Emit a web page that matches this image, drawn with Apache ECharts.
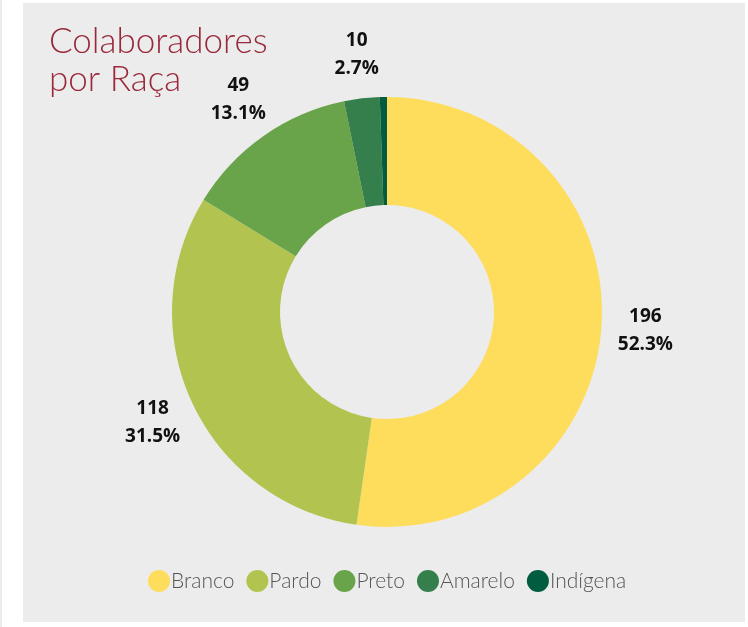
<!DOCTYPE html>
<html>
<head>
<meta charset="utf-8">
<script src="https://cdn.jsdelivr.net/npm/echarts@6/dist/echarts.min.js"></script>
<style>
  html, body { margin: 0; padding: 0; background: #fff; }
  #chart { width: 748px; height: 627px; }
</style>
</head>
<body>
<div id="chart"></div>
<script>
  // dados
  var categories = ['Branco', 'Pardo', 'Preto', 'Amarelo', 'Indígena'];
  var values = [196, 118, 49, 10, 2];
  var colors = ['#FEDD5C', '#B2C44F', '#6AA44A', '#347F4B', '#025C3F'];

  var total = values.reduce(function (a, b) { return a + b; }, 0);
  var pieData = categories.map(function (c, i) {
    return { name: c, value: values[i], itemStyle: { color: colors[i] } };
  });
  var labelData = categories.map(function (c, i) {
    return { name: c, value: values[i], label: { show: i < 4 } };
  });

  var chart = echarts.init(document.getElementById('chart'));
  chart.setOption({
    backgroundColor: '#ffffff',
    graphic: [
      { type: 'rect', z: -10, shape: { x: 0, y: 0, width: 2, height: 627 }, style: { fill: '#ececec' } },
      { type: 'rect', z: -10, shape: { x: 23, y: 3, width: 722, height: 619 }, style: { fill: '#ececec' } }
    ],
    title: {
      text: 'Colaboradores\npor Raça',
      left: 44,
      top: 18,
      textStyle: {
        fontFamily: 'Lato',
        fontWeight: 300,
        fontSize: 35,
        lineHeight: 38,
        color: '#98283A'
      }
    },
    legend: {
      data: categories,
      bottom: 30,
      left: 143,
      icon: 'circle',
      itemWidth: 22,
      itemHeight: 22,
      itemGap: 12,
      textStyle: {
        fontFamily: 'Lato',
        fontWeight: 300,
        fontSize: 21,
        color: '#555555',
        padding: [0, 0, 0, -4]
      }
    },
    series: [
      {
        type: 'pie',
        center: [387, 312],
        radius: [107, 215],
        startAngle: 90,
        clockwise: true,
        avoidLabelOverlap: false,
        label: { show: false },
        labelLine: { show: false },
        emphasis: { disabled: true },
        data: pieData
      },
      {
        type: 'pie',
        center: [387, 312],
        radius: [215, 297],
        startAngle: 90,
        clockwise: true,
        silent: true,
        avoidLabelOverlap: false,
        itemStyle: { color: 'rgba(0,0,0,0)' },
        labelLine: { show: false },
        label: {
          position: 'inside',
          color: '#111111',
          fontFamily: 'Open Sans',
          fontWeight: 'bold',
          fontSize: 19,
          lineHeight: 28,
          formatter: function (p) {
            return p.value + '\n' + (p.value / total * 100).toFixed(1) + '%';
          }
        },
        emphasis: { disabled: true },
        data: labelData
      }
    ]
  });
</script>
</body>
</html>
